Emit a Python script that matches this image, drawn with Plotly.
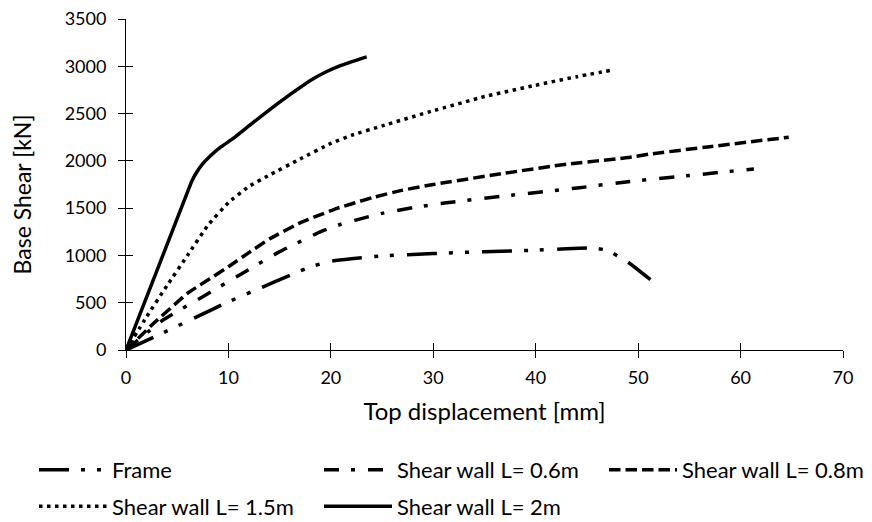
import plotly.graph_objects as go

# ---- data ----
frame_x = [0, 3, 7, 10, 13, 16, 18, 20, 22, 25, 30, 35, 40, 43, 45.5, 47, 49, 51.2]
frame_y = [0, 150, 355, 510, 650, 790, 880, 940, 965, 995, 1020, 1040, 1055, 1070, 1080, 1055, 930, 745]

sw06_x = [0, 3.6, 7.5, 10.8, 15, 19, 21, 23.7, 25, 28, 31.3, 37.8, 44.3, 49, 55, 61.3]
sw06_y = [0, 317, 564, 775, 1040, 1251, 1330, 1410, 1445, 1505, 1557, 1639, 1716, 1780, 1845, 1915]

sw08_x = [0, 2.7, 6, 10, 12, 14, 17, 20.6, 24, 27, 30, 37, 43, 49, 51, 57, 64.7]
sw08_y = [0, 282, 600, 880, 1030, 1175, 1345, 1498, 1610, 1690, 1750, 1870, 1965, 2035, 2070, 2150, 2250]

sw15_x = [0, 2, 4, 6, 8, 10, 12, 14, 17, 20, 22, 25, 30, 35, 40, 44, 47.5]
sw15_y = [0, 350, 680, 1000, 1320, 1560, 1730, 1850, 2020, 2185, 2270, 2370, 2530, 2680, 2800, 2890, 2960]

sw20_x = [0, 6.4, 6.9, 7.5, 8.3, 9.3, 10.5, 12, 14, 16, 18, 19.5, 21, 23.5]
sw20_y = [0, 1780, 1880, 1970, 2060, 2150, 2240, 2370, 2540, 2700, 2850, 2940, 3010, 3100]

names = ["Frame", "Shear wall L= 0.6m", "Shear wall L= 0.8m",
         "Shear wall L= 1.5m", "Shear wall L= 2m"]
x_ticks = [0, 10, 20, 30, 40, 50, 60, 70]
y_ticks = [0, 500, 1000, 1500, 2000, 2500, 3000, 3500]
x_title = "Top displacement [mm]"
y_title = "Base Shear [kN]"

FONT = "Lato"
series = [
    (frame_x, frame_y, names[0], "30px,12px,4px,12px,4px,13px", "legend"),
    (sw06_x, sw06_y, names[1], "15px,12px,4px,13px", "legend2"),
    (sw08_x, sw08_y, names[2], "11.5px,5px", "legend3"),
    (sw15_x, sw15_y, names[3], "3.5px,4.5px", "legend"),
    (sw20_x, sw20_y, names[4], "solid", "legend2"),
]

fig = go.Figure()
for xs, ys, nm, dash, lg in series:
    fig.add_trace(go.Scatter(
        x=xs, y=ys, name=nm, mode="lines",
        line=dict(color="black", width=3.5, dash=dash, shape="spline", smoothing=0.25),
        legend=lg, legendgroup=nm,
    ))

# helper trace for overlaying axes (inside ticks -> crossing ticks)
fig.add_trace(go.Scatter(x=[0, 70], y=[0, 3500], xaxis="x2", yaxis="y2",
                         mode="markers", marker=dict(opacity=0),
                         showlegend=False, hoverinfo="skip"))

axis_common = dict(showgrid=False, zeroline=False, showline=True,
                   linecolor="black", linewidth=1, tickcolor="black",
                   tickwidth=1, ticklen=7)

fig.update_layout(
    width=872, height=522,
    margin=dict(l=126, r=29, t=19, b=172, autoexpand=False),
    paper_bgcolor="white", plot_bgcolor="white",
    font=dict(family=FONT, color="black"),
    xaxis=dict(range=[0, 70], tickvals=x_ticks, ticks="outside",
               tickfont=dict(size=18), ticklabelstandoff=4,
               title=dict(text=x_title, font=dict(size=24), standoff=16),
               **axis_common),
    yaxis=dict(range=[0, 3500], tickvals=y_ticks, ticks="outside",
               tickfont=dict(size=18), ticklabelstandoff=8,
               **axis_common),
    xaxis2=dict(range=[0, 70], tickvals=x_ticks, ticks="inside", overlaying="x",
                anchor="y", side="bottom", showticklabels=False, **axis_common),
    yaxis2=dict(range=[0, 3500], tickvals=y_ticks, ticks="inside", overlaying="y",
                anchor="x", side="left", showticklabels=False, **axis_common),
    showlegend=True,
    annotations=[dict(text=y_title, textangle=-90, xref="paper", yref="paper",
                      x=(22 - 126) / 717, y=0.47, xanchor="center", yanchor="middle",
                      showarrow=False, font=dict(size=23, family=FONT, color="black"))],
)

leg_common = dict(orientation="v", xref="container", yref="container",
                  xanchor="left", yanchor="top", y=0.14,
                  font=dict(size=22, family=FONT), itemwidth=68,
                  tracegroupgap=5, bgcolor="rgba(0,0,0,0)", borderwidth=0,
                  traceorder="grouped")
fig.update_layout(
    legend=dict(x=34 / 872, **leg_common),
    legend2=dict(x=319 / 872, **leg_common),
    legend3=dict(x=604 / 872, **leg_common),
)

fig.write_html("out.html")
